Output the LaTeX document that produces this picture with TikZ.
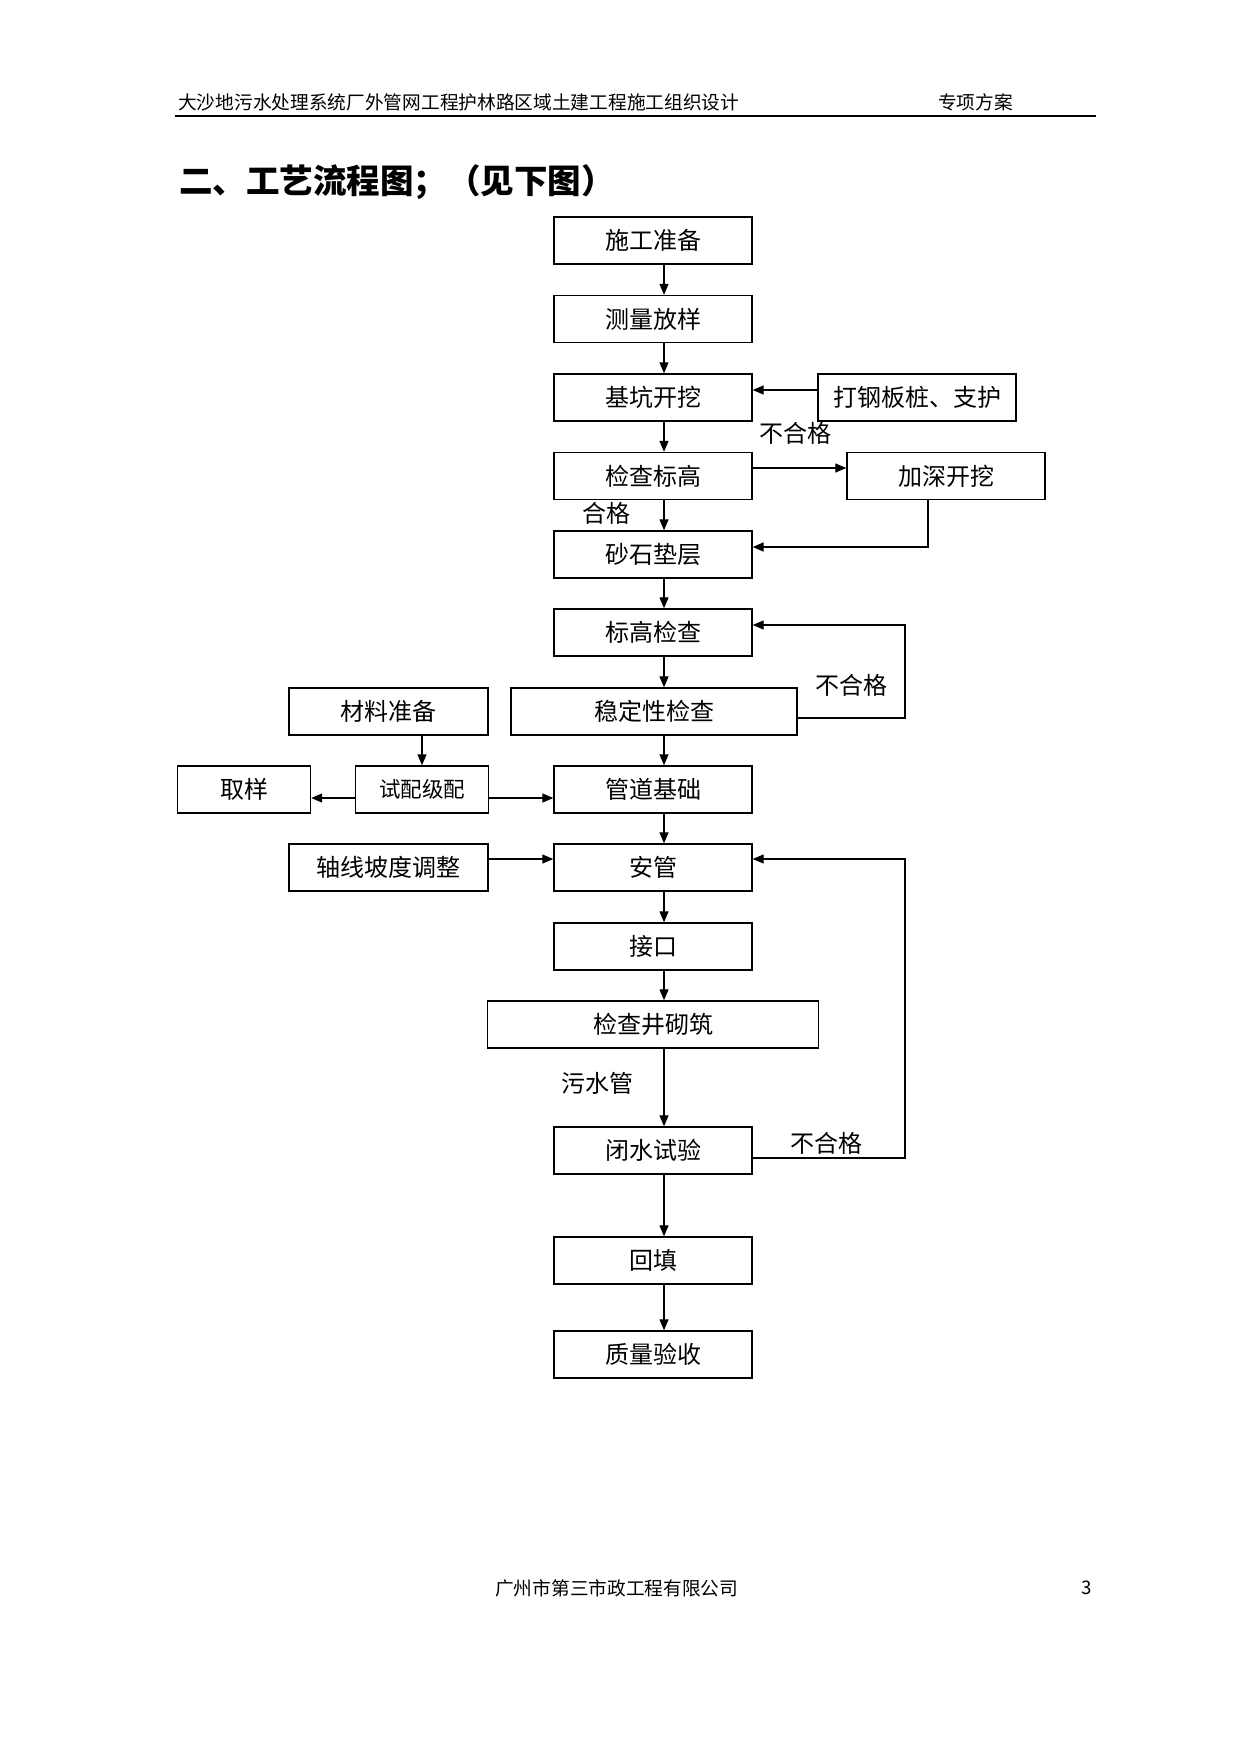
\documentclass[tikz,border=0pt]{standalone}
\usepackage{fontspec}
\setmainfont{Noto Sans CJK SC}
\usetikzlibrary{arrows.meta}
\begin{document}
\begin{tikzpicture}[x=1pt,y=-1pt,
  box/.style={draw,line width=1.4pt,minimum width=198pt,minimum height=47pt,inner sep=0pt,font=\fontsize{24}{28}\selectfont},
  arr/.style={line width=1.3pt,-{Triangle[length=11pt,width=9pt]}},
  lbl/.style={font=\fontsize{24}{28}\selectfont,inner sep=0pt},
  hdr/.style={font=\fontsize{18.7}{22}\selectfont,inner sep=0pt,anchor=west}]
\useasboundingbox (0,0) rectangle (1241,1754);
% header
\node[hdr] (h1) at (178,102) {大沙地污水处理系统厂外管网工程护林路区域土建工程施工组织设计};
\node[hdr] (h2) at (938,102) {专项方案};
\coordinate (hl) at (175,116);
\coordinate (hr) at (1096,116);
\draw[line width=2pt] (hl) -- (hr);
\node[anchor=west,inner sep=0pt,font=\fontsize{33.5}{38}\selectfont\bfseries] (title) at (179,182) {二、工艺流程图；（见下图）};
% boxes
\node[box] (b1) at (653,240.5) {施工准备};
\node[box] (b2) at (653,319) {测量放样};
\node[box] (b3) at (653,397.5) {基坑开挖};
\node[box] (b4) at (917,397.5) {打钢板桩、支护};
\node[box] (b5) at (653,476) {检查标高};
\node[box] (b6) at (946,476) {加深开挖};
\node[box] (b7) at (653,554.5) {砂石垫层};
\node[box] (b8) at (653,632.5) {标高检查};
\node[box,minimum width=286pt] (b9) at (654,711.5) {稳定性检查};
\node[box,minimum width=199pt] (b10) at (388.5,711.5) {材料准备};
\node[box,minimum width=133pt] (b11) at (244,789.5) {取样};
\node[box,minimum width=133pt,font=\fontsize{21.5}{26}\selectfont] (b12) at (422,789.5) {试配级配};
\node[box] (b13) at (653,789.5) {管道基础};
\node[box,minimum width=199pt] (b14) at (388.5,867.5) {轴线坡度调整};
\node[box] (b15) at (653,867.5) {安管};
\node[box] (b16) at (653,946.5) {接口};
\node[box,minimum width=331pt] (b17) at (653,1024.5) {检查井砌筑};
\node[box] (b18) at (653,1150.5) {闭水试验};
\node[box] (b19) at (653,1260.5) {回填};
\node[box] (b20) at (653,1354.5) {质量验收};
% routing coordinates
\coordinate (ax) at (664,0);
\coordinate (y4) at (0,390);
\coordinate (y5) at (0,468);
\coordinate (c6a) at (928,547);
\coordinate (c9a) at (905,718);
\coordinate (c9b) at (905,625);
\coordinate (ym) at (0,798);
\coordinate (y14) at (0,859);
\coordinate (c18a) at (905,1158);
\coordinate (c18b) at (905,859);
% vertical main arrows
\foreach \a/\b in {b1/b2,b2/b3,b3/b5,b5/b7,b7/b8,b8/b9,b9/b13,b13/b15,b15/b16,b16/b17,b17/b18,b18/b19,b19/b20}
  \draw[arr] (\a.south -| ax) -- (\b.north -| ax);
% side arrows
\draw[arr] (b4.west |- y4) -- (b3.east |- y4);
\draw[arr] (b5.east |- y5) -- (b6.west |- y5);
\draw[arr,line width=2pt] (b6.south -| c6a) -- (c6a) -- (b7.east |- c6a);
\draw[arr] (b9.east |- c9a) -- (c9a) -- (c9b) -- (b8.east |- c9b);
\draw[arr] (b10.south -| b12) -- (b12.north);
\draw[arr] (b12.west |- ym) -- (b11.east |- ym);
\draw[arr] (b12.east |- ym) -- (b13.west |- ym);
\draw[arr] (b14.east |- y14) -- (b15.west |- y14);
\draw[arr] (b18.east |- c18a) -- (c18a) -- (c18b) -- (b15.east |- c18b);
% labels
\node[lbl] (l1) at (795,433) {不合格};
\node[lbl] (l2) at (606,513) {合格};
\node[lbl] (l3) at (851,685) {不合格};
\node[lbl] (l4) at (597,1083) {污水管};
\node[lbl] (l5) at (826,1143) {不合格};
% footer
\node[hdr] (f1) at (495,1588) {广州市第三市政工程有限公司};
\node[hdr] (f2) at (1081,1588) {3};
\end{tikzpicture}
\end{document}
